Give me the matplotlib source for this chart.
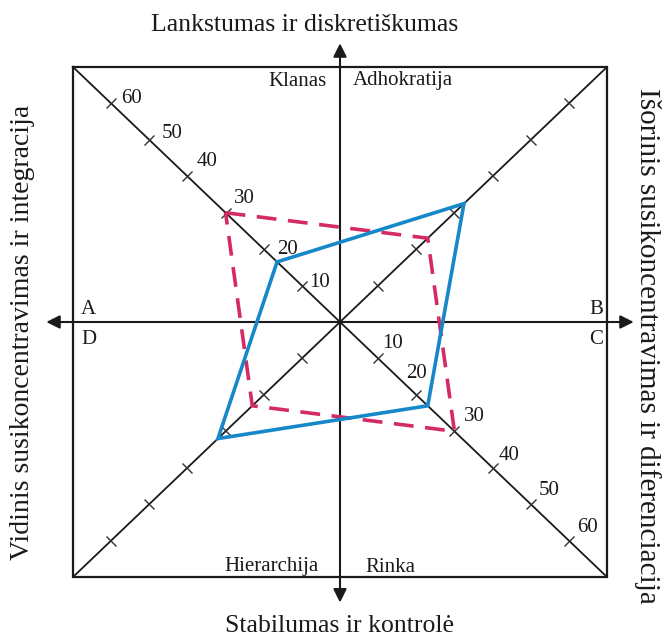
import matplotlib
matplotlib.use("Agg")
import matplotlib.pyplot as plt
from matplotlib.markers import MarkerStyle
from matplotlib.transforms import Affine2D
import numpy as np

# ---- data ----
tick_values = [10, 20, 30, 40, 50, 60]
tick_labels = ["10", "20", "30", "40", "50", "60"]
# order: Klanas (NW), Adhokratija (NE), Rinka (SE), Hierarchija (SW)
blue_values = [16.5, 32.5, 23, 32]
red_values = [30, 23, 30, 23]
corner_names = ["Klanas", "Adhokratija", "Rinka", "Hierarchija"]
axis_titles = ["Lankstumas ir diskretiškumas", "Stabilumas ir kontrolė",
               "Vidinis susikoncentravimas ir integracija",
               "Išorinis susikoncentravimas ir diferenciacija"]
side_letters = ["A", "B", "C", "D"]

W, H = 663, 639
DIAG_MAX = 70
dirs = [(-1, 1), (1, 1), (1, -1), (-1, -1)]  # NW, NE, SE, SW

plt.rcParams['font.family'] = ['Liberation Serif', 'DejaVu Serif']
fig = plt.figure(figsize=(W / 100, H / 100), dpi=100)
L, R, T, B = 73, 607, 67, 577
ax = fig.add_axes([L / W, 1 - B / H, (R - L) / W, (B - T) / H])
ax.set_xlim(-DIAG_MAX, DIAG_MAX)
ax.set_ylim(-DIAG_MAX, DIAG_MAX)
ax.axis('off')

def px(x, y):
    return (x / W, 1 - y / H)

# square frame
ax.plot([-DIAG_MAX, DIAG_MAX, DIAG_MAX, -DIAG_MAX, -DIAG_MAX],
        [DIAG_MAX, DIAG_MAX, -DIAG_MAX, -DIAG_MAX, DIAG_MAX],
        color='#1a1a1a', lw=1.6, clip_on=False, solid_joinstyle='miter')
# diagonals
ax.plot([-DIAG_MAX, DIAG_MAX], [DIAG_MAX, -DIAG_MAX], color='#1a1a1a', lw=1.3, clip_on=False)
ax.plot([-DIAG_MAX, DIAG_MAX], [-DIAG_MAX, DIAG_MAX], color='#1a1a1a', lw=1.3, clip_on=False)

# axes arrows
ax.annotate('', xy=(77, 0), xytext=(-77, 0), xycoords='data',
            arrowprops=dict(arrowstyle='<|-|>', color='#1a1a1a', lw=1.5,
                            mutation_scale=20, shrinkA=0, shrinkB=0), annotation_clip=False)
ax.annotate('', xy=(0, 76.5), xytext=(0, -77), xycoords='data',
            arrowprops=dict(arrowstyle='<|-|>', color='#1a1a1a', lw=1.5,
                            mutation_scale=20, shrinkA=0, shrinkB=0), annotation_clip=False)

# ticks on diagonals
ang = np.degrees(np.arctan((B - T) / (R - L)))
tv = np.array(tick_values)
for (dx, dy) in dirs:
    rot = -ang if dx * dy < 0 else ang
    m = MarkerStyle('|', transform=Affine2D().rotate_deg(rot))
    ax.plot(dx * tv, dy * tv, ls='none', marker=m, markersize=9.5,
            markeredgewidth=1.0, color='#333333', clip_on=False)

# tick labels (NW and SE diagonals)
nw_offsets = [(7, 3), (13, 0), (8, 14), (9, 15), (12, 6), (10, 5)]
se_offsets = [(4, 15), (-10, 21), (10, 15), (6, 12), (8, 14), (8, 13)]
for v, lab, o in zip(tick_values, tick_labels, nw_offsets):
    ax.annotate(lab, xy=(-v, v), xytext=o, textcoords='offset pixels',
                ha='left', va='center', fontsize=15, color='#1a1a1a')
for v, lab, o in zip(tick_values, tick_labels, se_offsets):
    ax.annotate(lab, xy=(v, -v), xytext=o, textcoords='offset pixels',
                ha='left', va='center', fontsize=15, color='#1a1a1a')

# profiles
def poly(vals):
    xs = [d[0] * v for d, v in zip(dirs, vals)]
    ys = [d[1] * v for d, v in zip(dirs, vals)]
    return xs + xs[:1], ys + ys[:1]

rx, ry = poly(red_values)
ax.plot(rx, ry, color='#D42A66', lw=2.6, dashes=(5.5, 3.2), solid_joinstyle='miter',
        dash_joinstyle='miter', zorder=4)
bx, by = poly(blue_values)
ax.plot(bx, by, color='#1688C9', lw=2.6, solid_joinstyle='miter', zorder=5)

# quadrant names
fig.text(*px(327, 81), corner_names[0], ha='right', va='center', fontsize=15, color='#1a1a1a')
fig.text(*px(353, 81), corner_names[1], ha='left', va='center', fontsize=15, color='#1a1a1a')
fig.text(*px(365, 567), corner_names[2], ha='left', va='center', fontsize=15, color='#1a1a1a')
fig.text(*px(319, 567), corner_names[3], ha='right', va='center', fontsize=15, color='#1a1a1a')

# side letters
fig.text(*px(81, 310), side_letters[0], ha='left', va='center', fontsize=15, color='#1a1a1a')
fig.text(*px(603, 310), side_letters[1], ha='right', va='center', fontsize=15, color='#1a1a1a')
fig.text(*px(603, 339), side_letters[2], ha='right', va='center', fontsize=15, color='#1a1a1a')
fig.text(*px(81, 339), side_letters[3], ha='left', va='center', fontsize=15, color='#1a1a1a')

# axis titles
fig.text(*px(305, 25), axis_titles[0], ha='center', va='center', fontsize=18.5, color='#1a1a1a')
fig.text(*px(340, 626), axis_titles[1], ha='center', va='center', fontsize=18.5, color='#1a1a1a')
fig.text(*px(23, 332), axis_titles[2], ha='center', va='center', rotation=90, fontsize=20, color='#1a1a1a')
fig.text(*px(648, 346), axis_titles[3], ha='center', va='center', rotation=270, fontsize=21, color='#1a1a1a')

fig.savefig('out.png', dpi=100)
